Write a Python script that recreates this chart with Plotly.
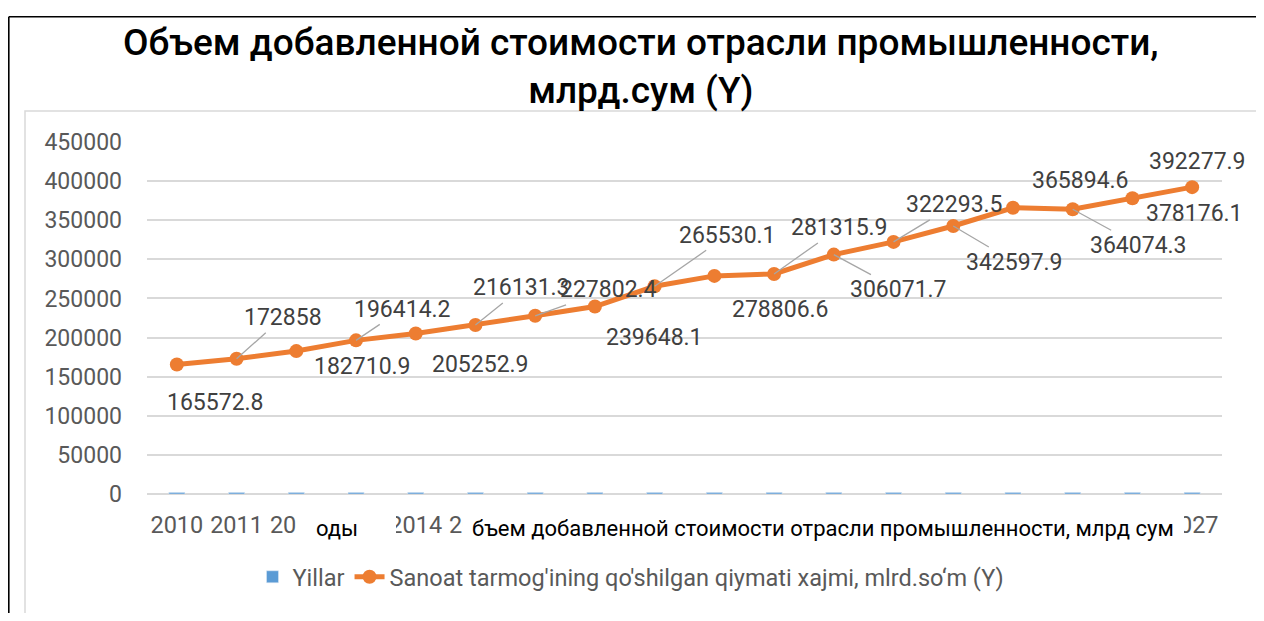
import plotly.graph_objects as go

# данные
years = ['2010', '2011', '2012', '2013', '2014', '2015', '2016', '2017', '2018',
         '2019', '2020', '2021', '2022', '2023', '2024', '2025', '2026', '2027']
yillar = [2010, 2011, 2012, 2013, 2014, 2015, 2016, 2017, 2018,
          2019, 2020, 2021, 2022, 2023, 2024, 2025, 2026, 2027]
sanoat = [165572.8, 172858, 182710.9, 196414.2, 205252.9, 216131.3, 227802.4,
          239648.1, 265530.1, 278806.6, 281315.9, 306071.7, 322293.5, 342597.9,
          365894.6, 364074.3, 378176.1, 392277.9]

# label offsets (px) and whether a leader line is drawn
label_dx = [39, 46, 66, 46, 65, 46, 73, 60, 73, 66, 65, 65, 61, 61, 68, 66, 62, 5]
label_dy = [38, -41, 15, -31, 31, -37, -26, 31, -51, 34, -46, 35, -37, 36, -27, 36, 15, -26]
leader = [0, 1, 0, 1, 0, 1, 1, 0, 1, 0, 1, 1, 1, 1, 0, 1, 0, 0]

# page has an 8px body margin, figure sits inside it
OFF = 8
W, H = 1248, 605
L, R, T, B = 139, 34, 134, 119
pw, ph = W - L - R, H - T - B


def px(x):
    # page x -> paper x
    return (x - OFF - L) / pw


def py(y):
    # page y -> paper y
    return (H - B - (y - OFF)) / ph


def fmt(v):
    return ('%f' % v).rstrip('0').rstrip('.')


fig = go.Figure()
fig.add_trace(go.Bar(
    x=years, y=yillar, name='Yillar',
    marker=dict(color='#5B9BD5'), width=0.27
))
fig.add_trace(go.Scatter(
    x=years, y=sanoat, mode='lines+markers',
    name="Sanoat tarmog'ining qo'shilgan qiymati xajmi, mlrd.so‘m (Y)",
    line=dict(color='#ED7D31', width=5),
    marker=dict(color='#ED7D31', size=14)
))

annotations = []
for i, v in enumerate(sanoat):
    annotations.append(dict(
        x=i, y=v, xref='x', yref='y', text=fmt(v),
        showarrow=True, arrowhead=0, arrowwidth=1.3, standoff=0,
        arrowcolor='#A6A6A6' if leader[i] else 'rgba(0,0,0,0)',
        ax=label_dx[i], ay=label_dy[i],
        font=dict(family='Roboto', size=23, color='#404040')
    ))

# title
annotations.append(dict(
    x=px(641), y=py(19), xref='paper', yref='paper', xanchor='center', yanchor='top',
    text='Объем добавленной стоимости отрасли промышленности,<br>млрд.сум (Y)',
    showarrow=False, font=dict(family='Roboto', size=37, color='#000000', weight=500)
))

# spreadsheet text lying over the category axis
annotations.append(dict(
    x=px(314), y=py(528), xref='paper', yref='paper', xanchor='left', yanchor='middle',
    text='оды', showarrow=False, font=dict(family='Roboto', size=22, color='#000000')
))
annotations.append(dict(
    x=px(470), y=py(528), xref='paper', yref='paper', xanchor='left', yanchor='middle',
    text='бъем добавленной стоимости отрасли промышленности, млрд сум', showarrow=False,
    font=dict(family='Roboto', size=22, color='#000000')
))

shapes = [
    # outer frame
    dict(type='line', xref='paper', yref='paper', x0=px(8.8), x1=px(1300), y0=py(16.8), y1=py(16.8),
         line=dict(color='#000000', width=1.6)),
    dict(type='line', xref='paper', yref='paper', x0=px(8.8), x1=px(8.8), y0=py(16.8), y1=py(640),
         line=dict(color='#000000', width=1.6)),
    # inner chart frame
    dict(type='rect', xref='paper', yref='paper', x0=px(25), x1=px(1259), y0=py(614), y1=py(111),
         line=dict(color='#D9D9D9', width=1.5), layer='below'),
    # covers over the tick labels
    dict(type='rect', xref='paper', yref='paper', x0=px(296), x1=px(396), y0=py(545), y1=py(508),
         fillcolor='white', line=dict(width=0), layer='above'),
    dict(type='rect', xref='paper', yref='paper', x0=px(463), x1=px(1184), y0=py(545), y1=py(508),
         fillcolor='white', line=dict(width=0), layer='above'),
]

fig.update_layout(
    width=W, height=H,
    margin=dict(l=L, r=R, t=T, b=B),
    paper_bgcolor='white', plot_bgcolor='white',
    font=dict(family='Roboto', color='#595959'),
    xaxis=dict(
        type='category', range=[-0.5, 17.5], autorange=False,
        showgrid=False, showline=False, ticks='', ticklabelstandoff=14,
        tickfont=dict(family='Roboto', size=23.5, color='#595959'), tickangle=0
    ),
    yaxis=dict(
        range=[0, 450000], autorange=False, dtick=50000, tickformat='d',
        showgrid=True, gridcolor='#D9D9D9', gridwidth=1.5,
        zeroline=True, zerolinecolor='#D9D9D9', zerolinewidth=1.5,
        showline=False, ticks='', ticklabelstandoff=24,
        tickfont=dict(family='Roboto', size=23, color='#595959')
    ),
    legend=dict(
        orientation='h', x=px(631), xanchor='center', y=py(577), yanchor='middle',
        font=dict(family='Roboto', size=23.5, color='#595959')
    ),
    showlegend=True,
    annotations=annotations,
    shapes=shapes,
)

fig.write_html('out.html')
